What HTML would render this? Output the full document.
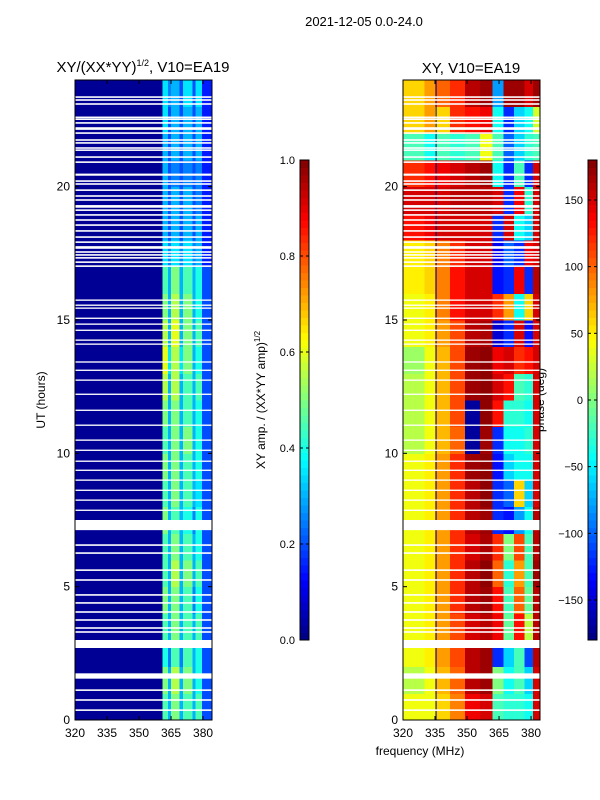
<!DOCTYPE html>
<html><head><meta charset="utf-8"><style>
html,body{margin:0;padding:0;background:#fff;}
svg{display:block;font-family:"Liberation Sans","DejaVu Sans",sans-serif;}
</style></head><body>
<svg id="fig" width="600" height="800" viewBox="0 0 600 800">
<text x="364" y="26" font-size="13" text-anchor="middle">2021-12-05 0.0-24.0</text>
<text x="143" y="72" font-size="15" text-anchor="middle">XY/(XX*YY)<tspan font-size="9" dy="-6">1/2</tspan><tspan dy="6">, V10=EA19</tspan></text>
<text x="471" y="73" font-size="15" text-anchor="middle">XY, V10=EA19</text>
<text x="420" y="755" font-size="12" text-anchor="middle">frequency (MHz)</text>
<text transform="translate(45,400) rotate(-90)" font-size="12" text-anchor="middle">UT (hours)</text>
<text transform="translate(265,400) rotate(-90)" font-size="12" text-anchor="middle">XY amp. / (XX*YY amp)<tspan font-size="8" dy="-5">1/2</tspan></text>
<text transform="translate(544,400) rotate(-90)" font-size="12" text-anchor="middle">phase (deg)</text>
<g id="left"></g>
<g id="right"></g>
<g id="cb"></g>
</svg>
<script>
// ---- data ----
const freqMin = 320, freqMax = 384.2, utMin = 0, utMax = 24;
const freqTicks = [320, 335, 350, 365, 380];
const utTicks = [0, 5, 10, 15, 20];
const ampTicks = [0.0, 0.2, 0.4, 0.6, 0.8, 1.0];
const phaseTicks = [-150, -100, -50, 0, 50, 100, 150];
const ampEdges = [320, 361, 363.5, 365, 369, 370.5, 375, 376.5, 379.5, 384.2];
const ampRows = [
[0.02,0.45,0.3,0.5,0.3,0.45,0.3,0.45,0.2],
[0.02,0.5,0.3,0.55,0.3,0.5,0.3,0.4,0.2],
[0.02,0.4,0.25,0.45,0.25,0.45,0.3,0.4,0.2],
[0.02,0.45,0.3,0.5,0.3,0.45,0.3,0.45,0.2],
[0.02,0.5,0.3,0.5,0.3,0.45,0.25,0.4,0.2],
[0.02,0.45,0.3,0.55,0.3,0.5,0.3,0.45,0.2],
[0.02,0.45,0.3,0.5,0.3,0.45,0.3,0.4,0.2],
[0.02,0.5,0.3,0.45,0.3,0.4,0.25,0.4,0.2],
[0.02,0.45,0.3,0.5,0.3,0.45,0.3,0.35,0.2],
[0.02,0.5,0.3,0.5,0.3,0.45,0.3,0.4,0.2],
[0.02,0.45,0.3,0.5,0.3,0.5,0.3,0.4,0.2],
[0.02,0.5,0.3,0.5,0.3,0.45,0.3,0.4,0.2],
[0.02,0.55,0.3,0.55,0.3,0.45,0.3,0.45,0.2],
[0.02,0.6,0.35,0.55,0.35,0.5,0.3,0.4,0.2],
[0.02,0.55,0.3,0.6,0.3,0.5,0.3,0.45,0.2],
[0.02,0.5,0.3,0.55,0.3,0.5,0.3,0.4,0.2],
[0.02,0.45,0.3,0.5,0.3,0.45,0.3,0.4,0.2],
[0.02,0.35,0.25,0.35,0.25,0.35,0.25,0.3,0.15],
[0.02,0.3,0.2,0.3,0.2,0.3,0.2,0.3,0.15],
[0.02,0.3,0.2,0.3,0.2,0.3,0.2,0.25,0.15],
[0.02,0.3,0.2,0.25,0.2,0.25,0.2,0.25,0.15],
[0.02,0.3,0.2,0.3,0.2,0.3,0.2,0.3,0.15],
[0.02,0.35,0.2,0.3,0.2,0.3,0.2,0.3,0.15],
[0.02,0.35,0.25,0.3,0.2,0.35,0.2,0.35,0.15]
];
const phaseEdges = [320, 330, 335, 342, 349, 356, 362, 367, 372, 377, 381, 384.2];
const phaseRows = [
[40,40,60,90,140,150,-20,-30,-30,-40,150],
[20,40,70,100,160,170,0,-40,-20,-60,150],
[40,50,80,110,160,170,-120,-60,-20,-110,160],
[40,50,80,110,150,160,140,-10,130,20,160],
[40,50,80,120,160,170,130,-20,100,-10,160],
[40,50,80,120,160,175,100,-30,80,-20,170],
[40,50,80,120,150,165,120,0,110,-20,160],
[40,50,80,120,160,170,-120,-130,-80,-40,160],
[40,50,80,120,160,175,-120,-100,60,-60,150],
[40,50,80,120,170,175,-130,-60,-40,-40,150],
[20,40,70,100,-170,170,-120,-40,-40,-30,150],
[20,40,70,110,-170,175,130,-30,-30,-40,150],
[20,40,70,110,170,175,150,130,-20,-30,150],
[10,40,70,110,170,175,140,150,120,130,150],
[40,50,80,110,160,165,-150,-120,150,-130,150],
[40,50,90,130,150,150,120,80,-40,60,150],
[50,60,90,130,150,150,-130,-120,140,-120,160],
[50,60,90,120,150,150,-140,-100,-120,140,150],
[130,140,150,150,150,150,-120,150,-40,-60,150],
[150,150,150,160,160,160,150,-120,140,-30,150],
[120,130,140,150,160,170,-40,-120,-20,-120,150],
[-20,-40,-20,-30,-20,40,-20,-100,-60,-30,-20],
[60,80,60,120,130,140,-40,-120,-60,-40,30],
[60,80,100,120,160,170,-80,170,170,150,170]
];
const flagStart = [23.33,23.22,23.07,22.57,22.5,22.36,22.13,21.98,21.72,21.61,21.42,21.34,21.08,20.89,20.41,20.18,20.07,19.84,19.62,19.47,19.21,19.09,18.91,18.72,18.53,18.31,18.08,17.89,17.67,17.52,17.41,17.3,17.14,16.99,15.72,15.53,15.42,15.04,14.82,14.59,14.22,14.07,13.4,13.09,12.72,12.19,11.59,11.03,10.47,10.09,9.68,9.34,8.97,8.59,8.22,7.84,7.12,6.53,6.23,5.59,5.22,4.66,4.36,4.02,3.72,3.42,3.27,2.7,1.55,1.09,0.72,0.34];
const flagLen = [0.06,0.06,0.06,0.06,0.06,0.06,0.1,0.06,0.06,0.06,0.06,0.06,0.06,0.06,0.08,0.06,0.06,0.06,0.06,0.06,0.1,0.06,0.06,0.06,0.06,0.06,0.06,0.06,0.1,0.06,0.06,0.06,0.06,0.06,0.05,0.05,0.05,0.05,0.05,0.05,0.05,0.05,0.05,0.05,0.05,0.05,0.05,0.05,0.05,0.05,0.05,0.05,0.05,0.05,0.05,0.05,0.38,0.06,0.06,0.06,0.06,0.06,0.06,0.06,0.06,0.06,0.06,0.3,0.2,0.06,0.06,0.06];

// ---- helpers ----
const NS = "http://www.w3.org/2000/svg";
function jet(v){ v=Math.max(0,Math.min(1,v));
  const r=Math.max(0,Math.min(1,1.5-Math.abs(4*v-3))), g=Math.max(0,Math.min(1,1.5-Math.abs(4*v-2))), b=Math.max(0,Math.min(1,1.5-Math.abs(4*v-1)));
  return `rgb(${Math.round(r*255)},${Math.round(g*255)},${Math.round(b*255)})`; }
function mk(tag, attrs, parent){ const e=document.createElementNS(NS,tag); for(const k in attrs) e.setAttribute(k,attrs[k]); parent.appendChild(e); return e; }

function drawPanel(g, x0, edges, rows, norm, vline){
  const x1 = x0+137, yTop=80, yBot=720;
  const xs = f => x0 + (f-freqMin)/(freqMax-freqMin)*(x1-x0);
  const ys = t => yBot - (t-utMin)/(utMax-utMin)*(yBot-yTop);
  rows.forEach((row,i)=>{
    row.forEach((v,j)=>{
      const r = mk('rect',{x:xs(edges[j]),y:ys(i+1),width:xs(edges[j+1])-xs(edges[j])+0.5,height:ys(i)-ys(i+1)+0.5,fill:jet(norm(v)),'shape-rendering':'crispEdges'},g);
      
      
    });
  });
  if(vline){ const l=mk('line',{x1:xs(vline),x2:xs(vline),y1:yTop,y2:yBot,stroke:'#00007a','stroke-width':1},g);
      }
  flagStart.forEach((s,k)=>{
    const r = mk('rect',{x:x0,y:ys(s+flagLen[k]),width:x1-x0,height:Math.max(1.2,ys(s)-ys(s+flagLen[k])),fill:'#fff'},g);
    
    
  });
  const fr = mk('rect',{x:x0,y:yTop,width:x1-x0,height:yBot-yTop,fill:'none',stroke:'#000','stroke-width':1},g);
   
  freqTicks.forEach(f=>{
    const x=xs(f);
    mk('line',{x1:x,x2:x,y1:yBot,y2:yBot-4,stroke:'#000'},g); mk('line',{x1:x,x2:x,y1:yTop,y2:yTop+4,stroke:'#000'},g);
    const t=mk('text',{x:x,y:yBot+17,'font-size':12,'text-anchor':'middle'},g); t.textContent=f;
     
  });
  utTicks.forEach(u=>{
    const y=ys(u);
    mk('line',{x1:x0,x2:x0+4,y1:y,y2:y,stroke:'#000'},g); mk('line',{x1:x1,x2:x1-4,y1:y,y2:y,stroke:'#000'},g);
    const t=mk('text',{x:x0-5,y:y+4,'font-size':12,'text-anchor':'end'},g); t.textContent=u;
     
  });
}
drawPanel(document.getElementById('left'), 75, ampEdges, ampRows, v=>v, null);
drawPanel(document.getElementById('right'), 403, phaseEdges, phaseRows, v=>(v+180)/360, 335.5);

function colorbar(g, x, ticks, norm, fmt, name){
  const top=160, bot=640, w=9, n=64;
  for(let i=0;i<n;i++){
    const r=mk('rect',{x:x,y:bot-(i+1)*(bot-top)/n,width:w,height:(bot-top)/n+0.5,fill:jet((i+0.5)/n),'shape-rendering':'crispEdges'},g);
     
  }
  mk('rect',{x:x,y:top,width:w,height:bot-top,fill:'none',stroke:'#000','stroke-width':1},g);
  ticks.forEach(v=>{
    const y=bot-norm(v)*(bot-top);
    mk('line',{x1:x,x2:x+3,y1:y,y2:y,stroke:'#000'},g); mk('line',{x1:x+w,x2:x+w-3,y1:y,y2:y,stroke:'#000'},g);
    const t=mk('text',{x:x-5,y:y+4,'font-size':11,'text-anchor':'end'},g); t.textContent=fmt(v);
     
  });
}
const cb=document.getElementById('cb');
colorbar(cb, 300, ampTicks, v=>v, v=>v.toFixed(1), 'amp-colorbar');
colorbar(cb, 588, phaseTicks, v=>(v+180)/360, v=>String(v).replace('-','\u2212'), 'phase-colorbar');
</script>
</body></html>
